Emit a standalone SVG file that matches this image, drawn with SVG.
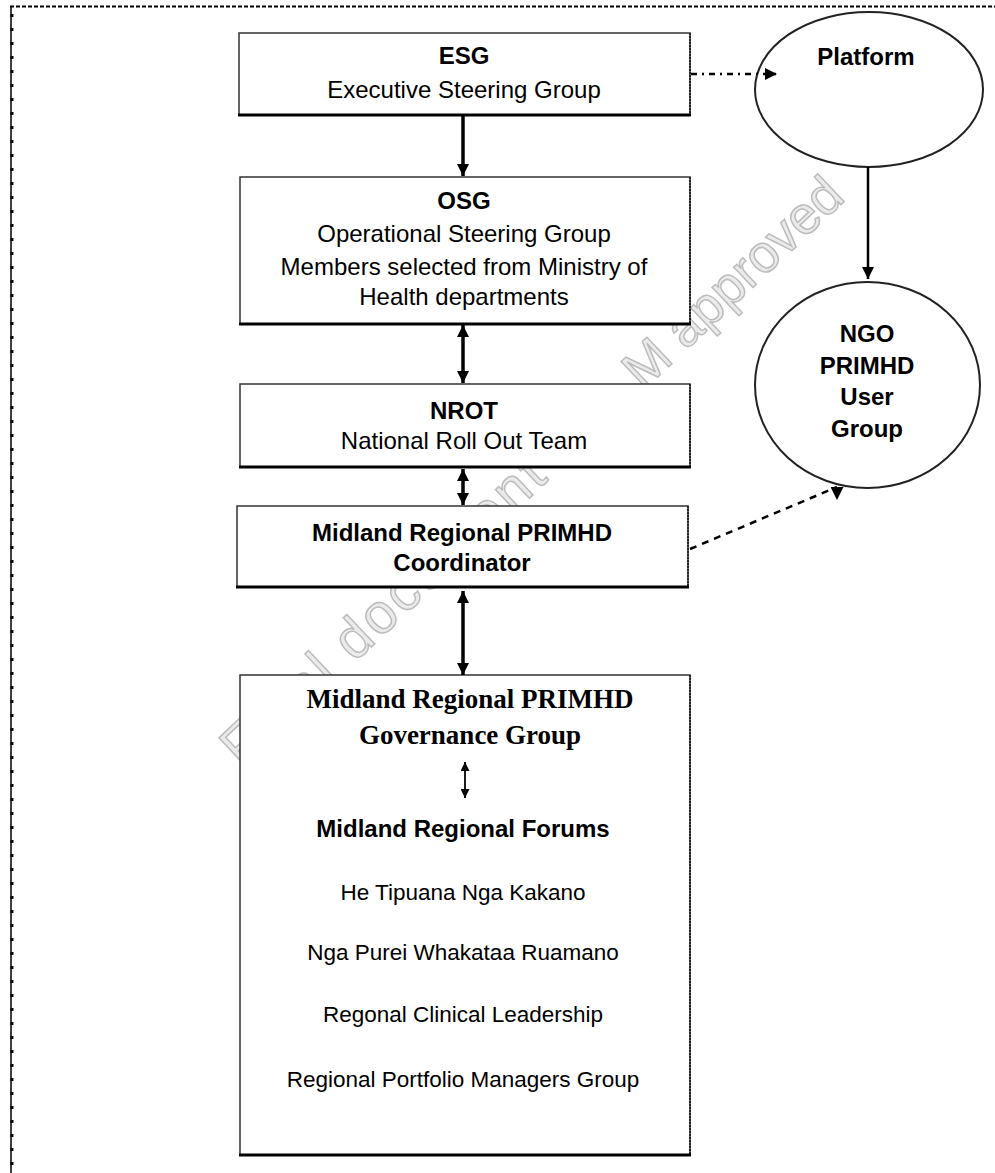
<svg xmlns="http://www.w3.org/2000/svg" width="995" height="1173" viewBox="0 0 995 1173">
<style>
.box{fill:#fff;stroke:#333;stroke-width:1.5}
.shd{stroke:#000;stroke-width:3}
.rside{stroke:#222;stroke-width:2;stroke-dasharray:2 1}
.ell{fill:#fff;stroke:#222;stroke-width:2}
.b{font-family:"Liberation Sans",Arial,sans-serif;font-weight:bold;font-size:24px;text-anchor:middle;fill:#000}
.n{font-family:"Liberation Sans",Arial,sans-serif;font-size:24px;text-anchor:middle;fill:#000}
.li{font-family:"Liberation Sans",Arial,sans-serif;font-size:22.5px;text-anchor:middle;fill:#000}
.s{font-family:"Liberation Serif","Times New Roman",serif;font-weight:bold;font-size:27px;text-anchor:middle;fill:#000}
.con{stroke:#000;fill:none}
</style>
<defs>
<marker id="ah" viewBox="0 0 10 10" refX="10" refY="5" markerWidth="12" markerHeight="12" markerUnits="userSpaceOnUse" orient="auto-start-reverse"><path d="M0,0 L10,5 L0,10 z" fill="#000"/></marker>
<marker id="ahs" viewBox="0 0 10 10" refX="10" refY="5" markerWidth="9" markerHeight="9" markerUnits="userSpaceOnUse" orient="auto-start-reverse"><path d="M0,0 L10,5 L0,10 z" fill="#000"/></marker>
<marker id="ahd" viewBox="0 0 10 10" refX="0" refY="5" markerWidth="13" markerHeight="13" markerUnits="userSpaceOnUse" orient="90"><path d="M0,0 L10,5 L0,10 z" fill="#000"/></marker>
</defs>
<rect width="995" height="1173" fill="#fff"/>
<g id="frame">
<line x1="10" y1="6.5" x2="995" y2="6.5" stroke="#000" stroke-width="2" stroke-dasharray="4 2"/>
<line x1="11" y1="6" x2="11" y2="1173" stroke="#000" stroke-width="1.5"/>
<line x1="12" y1="14" x2="12" y2="1173" stroke="#000" stroke-width="3" stroke-dasharray="3 11"/>
</g>
<g id="watermark" transform="translate(242,769) rotate(-43.3)" font-family="'Liberation Sans',Arial,sans-serif" fill="#ebebeb" stroke="#bcbcbc" stroke-width="1.5">
<text x="0" y="0" font-size="56" textLength="422">Final document</text>
<text x="551" y="0" font-size="53">M approved</text>
</g>
<g id="esg">
<rect class="box" x="239" y="33" width="451" height="82"/>
<line class="rside" x1="690" y1="33" x2="690" y2="115"/>
<line class="shd" x1="238" y1="115" x2="691" y2="115"/>
<text class="b" x="464" y="64">ESG</text>
<text class="n" x="464" y="98">Executive Steering Group</text>
</g>
<g id="osg">
<rect class="box" x="240" y="177" width="450" height="147"/>
<line class="rside" x1="690" y1="177" x2="690" y2="324"/>
<line class="shd" x1="239" y1="324" x2="691" y2="324"/>
<text class="b" x="464" y="209">OSG</text>
<text class="n" x="464" y="242">Operational Steering Group</text>
<text class="n" x="464" y="275">Members selected from Ministry of</text>
<text class="n" x="464" y="305">Health departments</text>
</g>
<g id="nrot">
<rect class="box" x="240" y="384" width="450" height="83"/>
<line class="rside" x1="690" y1="384" x2="690" y2="467"/>
<line class="shd" x1="239" y1="467" x2="691" y2="467"/>
<text class="b" x="464" y="419">NROT</text>
<text class="n" x="464" y="449">National Roll Out Team</text>
</g>
<g id="coordinator">
<rect class="box" x="237" y="506" width="451" height="81"/>
<line class="rside" x1="688" y1="506" x2="688" y2="587"/>
<line class="shd" x1="236" y1="587" x2="689" y2="587"/>
<text class="b" x="462" y="541">Midland Regional PRIMHD</text>
<text class="b" x="462" y="571">Coordinator</text>
</g>
<g id="governance">
<rect class="box" x="240" y="675" width="450" height="480"/>
<line class="rside" x1="690" y1="675" x2="690" y2="1155"/>
<line class="shd" x1="239" y1="1155" x2="691" y2="1155"/>
<text class="s" x="470" y="708">Midland Regional PRIMHD</text>
<text class="s" x="470" y="744">Governance Group</text>
<text class="b" x="463" y="837">Midland Regional Forums</text>
<text class="li" x="463" y="900">He Tipuana Nga Kakano</text>
<text class="li" x="463" y="960">Nga Purei Whakataa Ruamano</text>
<text class="li" x="463" y="1022">Regonal Clinical Leadership</text>
<text class="li" x="463" y="1087">Regional Portfolio Managers Group</text>
</g>
<g id="platform">
<ellipse class="ell" cx="869" cy="89.5" rx="114" ry="77.5"/>
<text class="b" x="866" y="65">Platform</text>
</g>
<g id="ngo">
<ellipse class="ell" cx="867.5" cy="385" rx="112.5" ry="103"/>
<text class="b" x="867" y="342">NGO</text>
<text class="b" x="867" y="374">PRIMHD</text>
<text class="b" x="867" y="405">User</text>
<text class="b" x="867" y="437">Group</text>
</g>
<g id="connectors">
<line class="con" x1="463" y1="116" x2="463" y2="176" stroke-width="3.5" marker-end="url(#ah)"/>
<line class="con" x1="463" y1="325" x2="463" y2="383" stroke-width="3.5" marker-start="url(#ah)" marker-end="url(#ah)"/>
<line class="con" x1="463" y1="469" x2="463" y2="505" stroke-width="3.5" marker-start="url(#ah)" marker-end="url(#ah)"/>
<line class="con" x1="463" y1="591" x2="463" y2="675" stroke-width="3.5" marker-start="url(#ah)" marker-end="url(#ah)"/>
<line class="con" x1="465" y1="762" x2="465" y2="798" stroke-width="1.8" marker-start="url(#ahs)" marker-end="url(#ahs)"/>
<line class="con" x1="691" y1="74" x2="777" y2="74" stroke-width="2.5" stroke-dasharray="6 5 2 5" marker-end="url(#ah)"/>
<line class="con" x1="868" y1="167" x2="868" y2="279" stroke-width="2.5" marker-end="url(#ah)"/>
<line class="con" x1="690" y1="549" x2="837" y2="487" stroke-width="2.5" stroke-dasharray="7 6" marker-end="url(#ahd)"/>
</g>
</svg>
